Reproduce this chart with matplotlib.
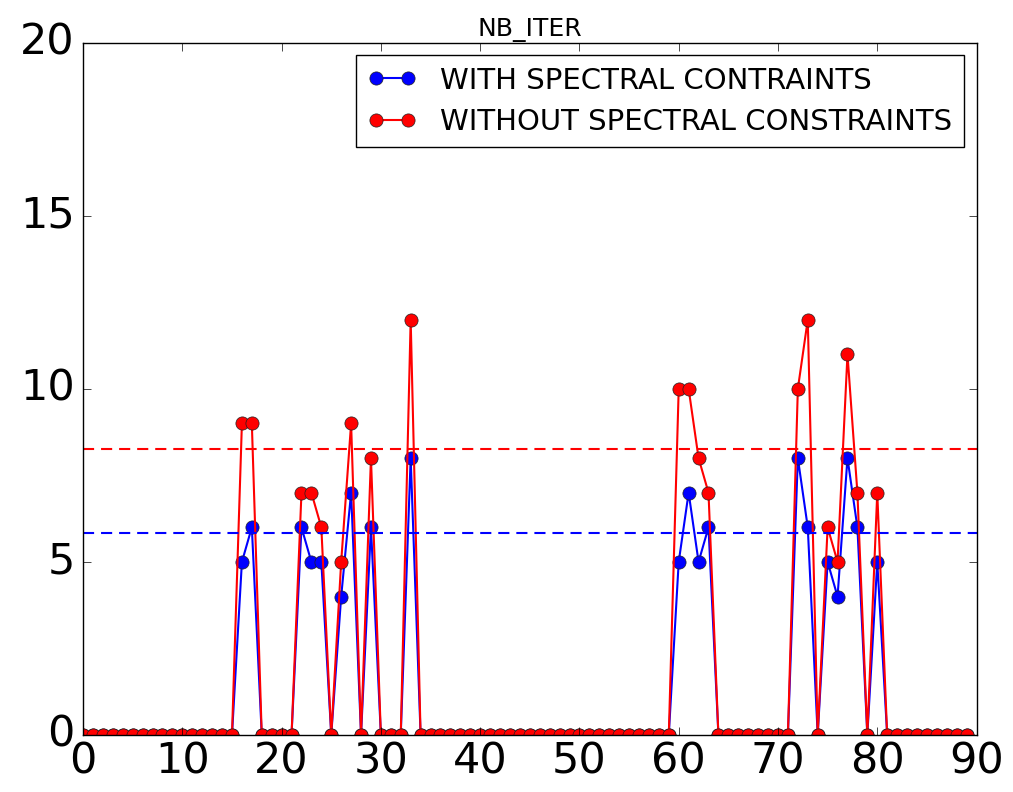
import matplotlib
matplotlib.use("Agg")
import matplotlib.pyplot as plt
import numpy as np

plt.style.use("classic")

# iteration counts per sample (0..89), zero where no iterations were needed
n_samples = 90
idx = [16, 17, 22, 23, 24, 26, 27, 29, 33, 60, 61, 62, 63, 72, 73, 75, 76, 77, 78, 80]
with_vals = [5, 6, 6, 5, 5, 4, 7, 6, 8, 5, 7, 5, 6, 8, 6, 5, 4, 8, 6, 5]
without_vals = [9, 9, 7, 7, 6, 5, 9, 8, 12, 10, 10, 8, 7, 10, 12, 6, 5, 11, 7, 7]

x = np.arange(n_samples)
nb_with = np.zeros(n_samples)
nb_without = np.zeros(n_samples)
nb_with[idx] = with_vals
nb_without[idx] = without_vals

# averages over the non-zero runs
mean_with = np.mean(with_vals)
mean_without = np.mean(without_vals)

fig = plt.figure(figsize=(10.13, 7.92), dpi=100, facecolor="white")
ax = fig.add_axes([0.082, 0.072, 0.882, 0.874])

ax.plot(x, nb_with, "b-o", lw=1.5, ms=9.5, mec="#202020", label="WITH SPECTRAL CONTRAINTS")
ax.plot(x, nb_without, "r-o", lw=1.5, ms=9.5, mec="#202020", label="WITHOUT SPECTRAL CONSTRAINTS")
ax.axhline(mean_with, color="b", ls="--", lw=1.5, dashes=(8, 5))
ax.axhline(mean_without, color="r", ls="--", lw=1.5, dashes=(8, 5))

ax.set_xlim(0, 90)
ax.set_ylim(0, 20)
ax.set_xticks(np.arange(0, 91, 10))
ax.set_yticks(np.arange(0, 21, 5))
ax.tick_params(labelsize=31, length=6)
ax.tick_params(axis="y", pad=6)
ax.set_title("NB_ITER", fontsize=18)

leg = ax.legend(loc="upper right", fontsize=21, numpoints=2, handlelength=1.7,
                borderpad=0.4, labelspacing=0.45, handletextpad=0.8,
                borderaxespad=0.42)
leg.get_frame().set_linewidth(1.0)

fig.savefig("out.png", dpi=100, facecolor="white")
